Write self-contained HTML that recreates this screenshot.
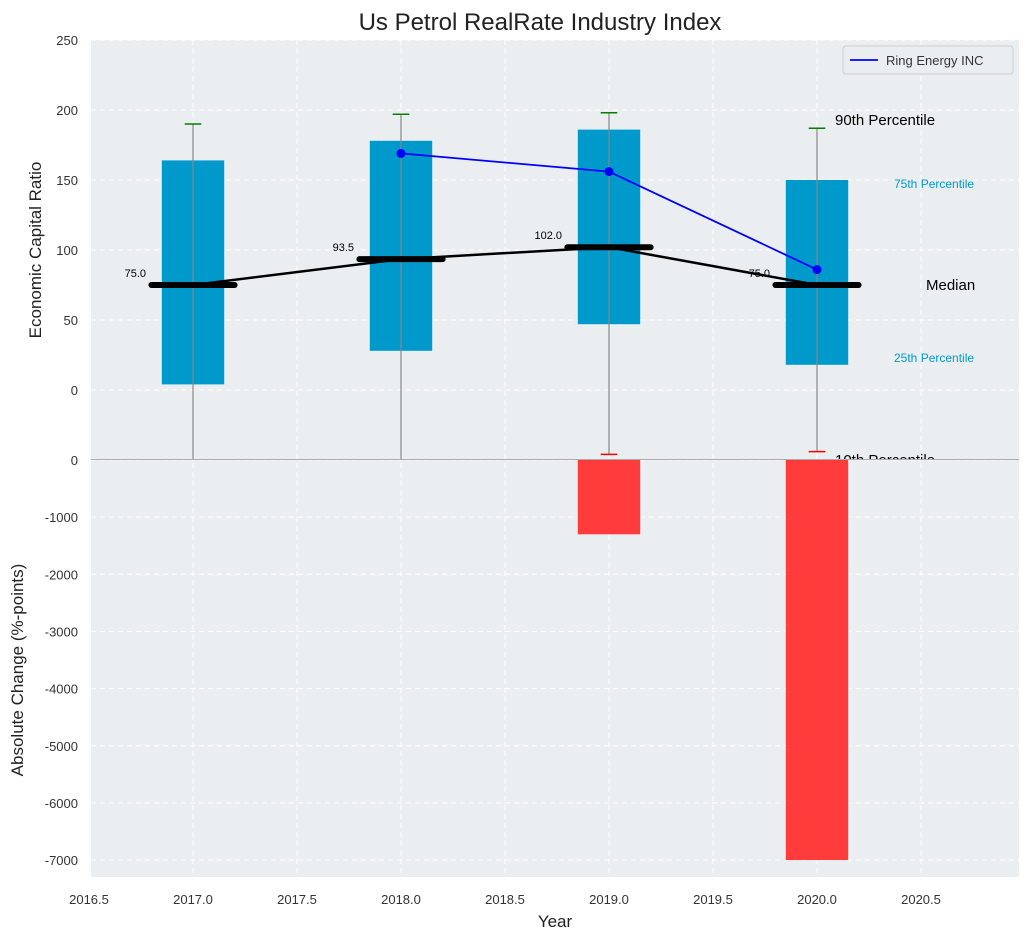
<!DOCTYPE html>
<html><head><meta charset="utf-8"><style>
body{margin:0;background:#fff;font-family:"Liberation Sans",sans-serif}
svg text{font-family:"Liberation Sans",sans-serif}
</style></head><body>
<svg id="c" width="1029" height="940" xmlns="http://www.w3.org/2000/svg"></svg>
<script>
const years=[2017,2018,2019,2020];
const p10=[-60,-60,-46,-44];
const p25=[4,28,47,18];
const med=[75,93.5,102,75];
const p75=[164,178,186,150];
const p90=[190,197,198,187];
const ringYears=[2018,2019,2020];
const ringVals=[169,156,86];
const chgVals=[0,0,-1300,-7000];
const xTicks=[2016.5,2017,2017.5,2018,2018.5,2019,2019.5,2020,2020.5];
const yTopTicks=[0,50,100,150,200,250];
const yBotTicks=[0,-1000,-2000,-3000,-4000,-5000,-6000,-7000];

const svg=document.getElementById('c');const NS='http://www.w3.org/2000/svg';
function el(t,a,p){const e=document.createElementNS(NS,t);for(const k in a)e.setAttribute(k,a[k]);(p||svg).appendChild(e);return e;}
const L=91,R=1019,T1=40,B1=459,T2=460,B2=877;
const x=v=>89+(v-2016.5)*208;
const yt=v=>390-v*1.4;
const yb=v=>460+(-v)*0.05715;
let r=el('rect',{x:L,y:T1,width:R-L,height:B1-T1,fill:'#eaeef0'});

r=el('rect',{x:L,y:T2,width:R-L,height:B2-T2,fill:'#eaeef0'});

xTicks.forEach(v=>{el('line',{x1:x(v),x2:x(v),y1:T1,y2:B2,stroke:'#fff','stroke-dasharray':'5,4','stroke-width':1});
 let t=el('text',{x:x(v),y:904,'text-anchor':'middle','font-size':13,fill:'#333'});t.textContent=v.toFixed(1);
 });
yTopTicks.forEach(v=>{el('line',{x1:L,x2:R,y1:yt(v),y2:yt(v),stroke:'#fff','stroke-dasharray':'5,4'});
 let t=el('text',{x:78,y:yt(v)+5,'text-anchor':'end','font-size':13,fill:'#333'});t.textContent=v;
 });
yBotTicks.forEach(v=>{el('line',{x1:L,x2:R,y1:yb(v),y2:yb(v),stroke:'#fff','stroke-dasharray':'5,4'});
 let t=el('text',{x:78,y:yb(v)+5,'text-anchor':'end','font-size':13,fill:'#333'});t.textContent=v;
 });
el('clipPath',{id:'ct'});
const cp=el('rect',{x:L,y:T1,width:R-L,height:B1-T1},svg.querySelector('#ct'));
const g=el('g',{'clip-path':'url(#ct)'});
years.forEach((yr,i)=>{
 let b=el('rect',{x:x(yr-0.15),y:yt(p75[i]),width:x(yr+0.15)-x(yr-0.15),height:yt(p25[i])-yt(p75[i]),fill:'#0099cc'},g);
 
 el('line',{x1:x(yr),x2:x(yr),y1:yt(p90[i]),y2:yt(p10[i]),stroke:'#888','stroke-width':1.2},g);
 el('line',{x1:x(yr-0.04),x2:x(yr+0.04),y1:yt(p90[i]),y2:yt(p90[i]),stroke:'green','stroke-width':1.5},g);
 el('line',{x1:x(yr-0.04),x2:x(yr+0.04),y1:yt(p10[i]),y2:yt(p10[i]),stroke:'red','stroke-width':1.5},g);
});
let pts=years.map((yr,i)=>x(yr)+','+yt(med[i])).join(' ');
let ml=el('polyline',{points:pts,fill:'none',stroke:'#000','stroke-width':2.5},g);

years.forEach((yr,i)=>{
 el('line',{x1:x(yr-0.2),x2:x(yr+0.2),y1:yt(med[i]),y2:yt(med[i]),stroke:'#000','stroke-width':6,'stroke-linecap':'round'},g);
 let t=el('text',{x:x(yr)-47,y:yt(med[i])-8,'text-anchor':'end','font-size':11,fill:'#000'},g);t.textContent=med[i].toFixed(1);
 
});
let rl=el('polyline',{points:ringYears.map((yr,i)=>x(yr)+','+yt(ringVals[i])).join(' '),fill:'none',stroke:'blue','stroke-width':1.8},g);

ringYears.forEach((yr,i)=>{let c=el('circle',{cx:x(yr),cy:yt(ringVals[i]),r:4.5,fill:'blue'},g);
 });
const li=p90.length-1;
[['90th Percentile',835,yt(p90[li])-3,15,'#000'],['75th Percentile',894,yt(p75[li])+8,12,'#0099cc'],['Median',926,290,15,'#000'],['25th Percentile',894,362,12,'#0099cc'],['10th Percentile',835,465,15,'#000']].forEach(a=>{
 let t=el('text',{x:a[1],y:a[2],'font-size':a[3],fill:a[4]},g);t.textContent=a[0];
 });
years.forEach((yr,i)=>{if(chgVals[i]<0){let b=el('rect',{x:x(yr-0.15),y:yb(0),width:x(yr+0.15)-x(yr-0.15),height:yb(chgVals[i])-yb(0),fill:'#ff3b3b'});
 }});
el('line',{x1:L,x2:R,y1:459.5,y2:459.5,stroke:'#aaa','stroke-width':1});
let lg=el('g',{});
el('rect',{x:843,y:46,width:170,height:28,rx:3,fill:'#eaeef0',stroke:'#ccc'},lg);
el('line',{x1:850,x2:878,y1:60,y2:60,stroke:'blue','stroke-width':1.8},lg);
let lt=el('text',{x:886,y:65,'font-size':13,fill:'#333'},lg);lt.textContent='Ring Energy INC';
let t=el('text',{x:540,y:30,'text-anchor':'middle','font-size':24,fill:'#222'});t.textContent='Us Petrol RealRate Industry Index';

t=el('text',{x:555,y:927,'text-anchor':'middle','font-size':17,fill:'#222'});t.textContent='Year';

t=el('text',{x:0,y:0,'text-anchor':'middle','font-size':17,fill:'#222',transform:'translate(41,250) rotate(-90)'});t.textContent='Economic Capital Ratio';

t=el('text',{x:0,y:0,'text-anchor':'middle','font-size':17,fill:'#222',transform:'translate(23,670) rotate(-90)'});t.textContent='Absolute Change (%-points)';

</script>
</body></html>
